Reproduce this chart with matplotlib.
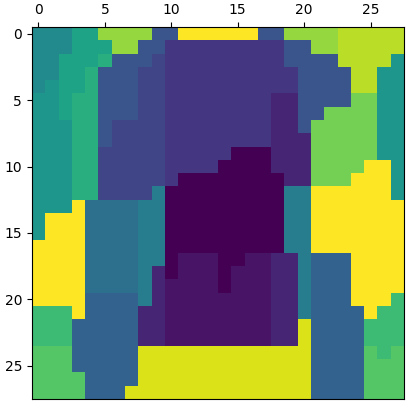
import numpy as np
import matplotlib
matplotlib.use("Agg")
import matplotlib.pyplot as plt

# segment label per pixel, 28 x 28
row_00 = [9,9,9,11,11,16,16,16,16,5,5,19,19,19,19,19,19,5,5,16,16,16,16,17,17,17,17,17]
row_01 = [9,9,9,11,11,11,16,16,5,5,3,3,3,3,3,3,3,3,3,5,5,16,16,17,17,17,17,17]
row_02 = [9,9,11,11,11,12,5,5,5,4,3,3,3,3,3,3,3,3,3,5,5,5,5,17,17,17,17,10]
row_03 = [9,9,11,11,12,5,5,5,4,4,3,3,3,3,3,3,3,3,3,3,5,5,5,5,17,17,10,10]
row_04 = [9,10,11,11,12,5,5,5,4,4,3,3,3,3,3,3,3,3,3,3,5,5,5,5,17,17,10,10]
row_05 = [10,10,11,12,12,5,5,5,4,4,3,3,3,3,3,3,3,3,2,2,5,5,5,5,15,15,10,10]
row_06 = [10,10,11,12,12,5,5,5,4,4,3,3,3,3,3,3,3,3,2,2,5,5,15,15,15,15,10,10]
row_07 = [10,10,10,12,12,5,4,4,4,4,3,3,3,3,3,3,3,3,2,2,5,15,15,15,15,15,10,10]
row_08 = [10,10,10,12,12,5,4,4,4,4,3,3,3,3,3,3,3,3,2,2,2,15,15,15,15,15,10,10]
row_09 = [10,10,10,12,12,4,4,4,4,4,3,3,3,3,3,0,0,0,2,2,2,15,15,15,15,15,10,10]
row_10 = [10,10,10,12,12,4,4,4,4,4,3,3,3,3,0,0,0,0,2,2,2,15,15,15,15,19,19,10]
row_11 = [10,10,10,12,12,4,4,4,4,4,3,0,0,0,0,0,0,0,0,2,2,15,15,15,19,19,19,10]
row_12 = [10,10,10,12,12,4,4,4,4,8,0,0,0,0,0,0,0,0,0,8,8,19,19,19,19,19,19,10]
row_13 = [10,10,10,19,7,7,7,7,8,8,0,0,0,0,0,0,0,0,0,8,8,19,19,19,19,19,19,19]
row_14 = [10,19,19,19,7,7,7,7,8,8,0,0,0,0,0,0,0,0,0,8,8,19,19,19,19,19,19,19]
row_15 = [10,19,19,19,7,7,7,7,8,8,0,0,0,0,0,0,0,0,0,8,8,19,19,19,19,19,19,19]
row_16 = [19,19,19,19,7,7,7,7,8,8,0,0,0,0,0,0,0,0,0,8,8,19,19,19,19,19,19,19]
row_17 = [19,19,19,19,7,7,7,7,8,8,0,1,1,1,0,0,1,1,2,2,8,6,6,6,19,19,19,19]
row_18 = [19,19,19,19,7,7,7,7,8,2,0,1,1,1,0,1,1,1,2,2,8,6,6,6,19,19,19,19]
row_19 = [19,19,19,19,7,7,7,7,8,2,1,1,1,1,0,1,1,1,2,2,8,6,6,6,19,19,19,19]
row_20 = [19,19,19,19,6,6,6,6,8,2,1,1,1,1,1,1,1,1,2,2,8,6,6,6,19,19,19,13]
row_21 = [13,13,13,19,6,6,6,6,2,2,1,1,1,1,1,1,1,1,2,2,8,6,6,6,6,19,13,13]
row_22 = [13,13,13,6,6,6,6,6,2,2,1,1,1,1,1,1,1,1,2,2,18,6,6,6,6,13,13,13]
row_23 = [13,13,13,6,6,6,6,6,2,2,1,1,1,1,1,1,1,1,2,2,18,6,6,6,6,13,13,13]
row_24 = [14,14,14,6,6,6,6,6,18,18,18,18,18,18,18,18,18,18,18,18,18,6,6,6,6,14,13,14]
row_25 = [14,14,14,6,6,6,6,6,18,18,18,18,18,18,18,18,18,18,18,18,18,6,6,6,6,14,14,14]
row_26 = [14,14,14,14,6,6,6,6,18,18,18,18,18,18,18,18,18,18,18,18,18,6,6,6,6,14,14,14]
row_27 = [14,14,14,14,6,6,6,18,18,18,18,18,18,18,18,18,18,18,18,18,18,6,6,6,6,14,14,14]

rows = [row_00, row_01, row_02, row_03, row_04, row_05, row_06,
        row_07, row_08, row_09, row_10, row_11, row_12, row_13,
        row_14, row_15, row_16, row_17, row_18, row_19, row_20,
        row_21, row_22, row_23, row_24, row_25, row_26, row_27]
ticks = [0, 5, 10, 15, 20, 25]

labels = np.array(rows)

fig = plt.figure(figsize=(4.12, 4.09), dpi=100)
ax = fig.add_axes([31.8 / 412, 1 - 399.0 / 409, 372 / 412, 372 / 409])
ax.imshow(labels, cmap="viridis", vmin=0, vmax=19, interpolation="nearest")
ax.xaxis.tick_top()
ax.set_xticks(ticks)
ax.set_yticks(ticks)

fig.savefig("out.png", dpi=100)
